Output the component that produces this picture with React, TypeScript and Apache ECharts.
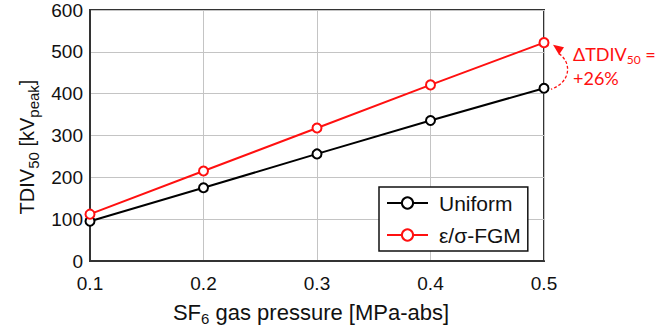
import React, { useEffect, useRef } from 'react';
import * as echarts from 'echarts';

const pressures = ['0.1', '0.2', '0.3', '0.4', '0.5'];
const uniformValues = [95, 175, 256, 336, 413];
const fgmValues = [112, 215, 318, 421, 522];
const seriesNames = ['Uniform', 'ε/σ-FGM'];
const yMin = 0;
const yMax = 600;
const yStep = 100;
const xTitle = ['SF', '6', ' gas pressure [MPa-abs]'];
const yTitle = ['TDIV', '50', ' [kV', 'peak', ']'];
const deltaLabel = ['ΔTDIV', '50', ' =', '+26%'];

const FONT = '"Liberation Sans", Arial, sans-serif';
const RED = '#ff1010';

export default function App() {
  const ref = useRef<HTMLDivElement>(null);
  useEffect(() => {
    document.body.style.margin = '0';
    if (!ref.current) return;
    const chart = echarts.init(ref.current, null, { renderer: 'svg' });
    const xSub = { fontSize: 15, lineHeight: 14, verticalAlign: 'bottom', fontFamily: FONT, color: '#111' };
    const xMain = { fontSize: 22, lineHeight: 28, verticalAlign: 'middle', fontFamily: FONT, color: '#111' };
    chart.setOption({
      animation: false,
      grid: {
        left: 90, right: 126, top: 10, bottom: 66,
        outerBoundsMode: 'none', containLabel: false,
        show: true, borderColor: '#333', borderWidth: 2, backgroundColor: 'transparent',
      },
      xAxis: {
        type: 'category',
        data: pressures,
        boundaryGap: false,
        axisLine: { show: true, lineStyle: { color: '#333', width: 2 } },
        axisTick: { show: false },
        splitLine: { show: true, lineStyle: { color: '#c4c4c4', width: 1 } },
        axisLabel: { fontSize: 19, fontFamily: FONT, color: '#111', margin: 13 },
        name: `{m|${xTitle[0]}}{s|${xTitle[1]}}{m|${xTitle[2]}}`,
        nameLocation: 'middle',
        nameGap: 37,
        nameTextStyle: { rich: { m: xMain, s: xSub }, padding: [0, 12, 0, 0] },
      },
      yAxis: {
        type: 'value',
        min: yMin,
        max: yMax,
        interval: yStep,
        axisLine: { show: true, lineStyle: { color: '#333', width: 2 } },
        axisTick: { show: false },
        splitLine: { show: true, lineStyle: { color: '#c4c4c4', width: 1 } },
        axisLabel: { fontSize: 19, fontFamily: FONT, color: '#111', margin: 7 },
      },
      legend: {
        orient: 'vertical',
        left: 379,
        top: 187,
        backgroundColor: '#fff',
        borderColor: '#111',
        borderWidth: 1.5,
        borderRadius: 0,
        padding: [5, 7, 5, 7],
        itemWidth: 41,
        itemHeight: 14,
        itemGap: 10,
        textStyle: { fontSize: 21, fontFamily: FONT, color: '#111', lineHeight: 22, padding: [0, 0, 0, 6] },
        data: seriesNames,
      },
      series: [
        {
          name: seriesNames[0],
          type: 'line',
          data: uniformValues,
          symbol: 'emptyCircle',
          symbolSize: 9,
          color: '#000',
          lineStyle: { color: '#000', width: 2 },
          itemStyle: { color: '#000', borderWidth: 1.3 },
          z: 3,
        },
        {
          name: seriesNames[1],
          type: 'line',
          data: fgmValues,
          symbol: 'emptyCircle',
          symbolSize: 9,
          color: RED,
          lineStyle: { color: RED, width: 2 },
          itemStyle: { color: RED, borderWidth: 1.3 },
          z: 4,
        },
      ],
    });
    const last = pressures.length - 1;
    const top = chart.convertToPixel({ seriesIndex: 1 }, [last, fgmValues[last]]) as number[];
    const bot = chart.convertToPixel({ seriesIndex: 0 }, [last, uniformValues[last]]) as number[];
    const [tx, ty] = top;
    const [bx, by] = bot;
    const af = 'Lato, "Open Sans", sans-serif';
    const am = { fontSize: 18, lineHeight: 24, verticalAlign: 'middle', fontFamily: af, fill: RED };
    const as = { fontSize: 12, lineHeight: 12, verticalAlign: 'bottom', fontFamily: af, fill: RED };
    const ym = { fontSize: 20, lineHeight: 28, verticalAlign: 'middle', fontFamily: FONT, fill: '#111' };
    const ys = { fontSize: 15, lineHeight: 14, verticalAlign: 'bottom', fontFamily: FONT, fill: '#111' };
    chart.setOption({
      graphic: [
        {
          type: 'text',
          x: 27,
          y: 147,
          rotation: Math.PI / 2,
          style: {
            text: `{m|${yTitle[0]}}{s|${yTitle[1]}}{m|${yTitle[2]}}{s|${yTitle[3]}}{m|${yTitle[4]}}`,
            rich: { m: ym, s: ys },
            align: 'center',
            verticalAlign: 'middle',
          },
        },
        {
          type: 'bezierCurve',
          shape: { x1: tx + 15, y1: ty + 11, cpx1: tx + 28, cpy1: ty + 20, cpx2: tx + 27, cpy2: by - 6, x2: bx + 7, y2: by + 1 },
          style: { stroke: RED, lineWidth: 1.3, lineDash: [3, 2], fill: null },
        },
        {
          type: 'polygon',
          shape: { points: [[tx + 9, ty + 2], [tx + 20, ty + 4.5], [tx + 15, ty + 12]] },
          style: { fill: RED },
        },
        {
          type: 'text',
          left: tx + 29,
          top: ty + 2,
          style: {
            text: `{m|${deltaLabel[0]}}{s|${deltaLabel[1]}}{m|${deltaLabel[2]}}\n{m|${deltaLabel[3]}}`,
            rich: { m: am, s: as },
            fill: RED,
          },
        },
      ],
    });
    return () => chart.dispose();
  }, []);
  return <div ref={ref} style={{ width: 670, height: 327 }} />;
}
